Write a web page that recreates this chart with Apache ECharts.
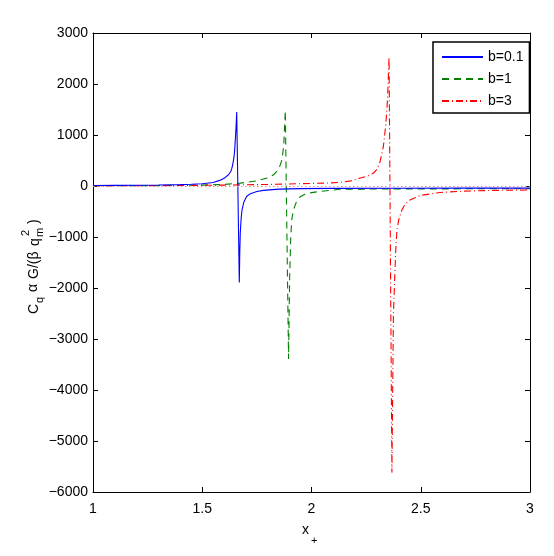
<!DOCTYPE html>
<html>
<head>
<meta charset="utf-8">
<script src="https://cdn.jsdelivr.net/npm/echarts@6/dist/echarts.min.js"></script>
<style>
html,body{margin:0;padding:0;background:#fff;}
#main{width:554px;height:556px;}
</style>
</head>
<body>
<div id="main"></div>
<script>
// ---- data ----
const seriesNames = ['b=0.1', 'b=1', 'b=3'];
const xTicks = [1, 1.5, 2, 2.5, 3];
const yTicks = [-6000, -5000, -4000, -3000, -2000, -1000, 0, 1000, 2000, 3000];

const blueX = [1.0,1.1,1.2,1.3,1.4,1.45,1.5,1.55,1.58,1.6,1.62,1.63,1.635,1.64,1.645,1.648,1.651,1.654,1.656,1.6577,1.6696,1.672,1.674,1.678,1.682,1.69,1.703,1.72,1.75,1.78,1.85,1.95,2.1,2.4,2.7,3.0];
const blueY = [10,12,15,19,27,34,45,70,110,150,220,280,340,430,560,680,880,1100,1280,1450,-1890,-1250,-920,-640,-470,-320,-206,-150,-108,-85,-62,-52,-47,-44,-42,-41];

const greenX = [1.0,1.2,1.4,1.5,1.6,1.674,1.75,1.8,1.826,1.85,1.865,1.873,1.88,1.895,1.9,1.905,1.91,1.918,1.93,1.948,1.97,2.0,2.04,2.13,2.3,2.5,2.75,3.0];
const greenY = [3,6,12,18,30,57,100,160,220,330,514,800,1480,-3390,-1800,-1000,-650,-460,-320,-210,-160,-130,-105,-65,-58,-56,-55,-55];

const redX = [1.0,1.2,1.4,1.6,1.8,1.9,2.0,2.08,2.131,2.18,2.223,2.26,2.284,2.3,2.314,2.329,2.34,2.348,2.355,2.368,2.375,2.385,2.391,2.4,2.414,2.43,2.452,2.497,2.589,2.7,2.85,3.0];
const redY = [2,5,10,18,30,40,50,60,72,100,155,200,253,330,481,775,1200,1700,2529,-5620,-2500,-1300,-859,-650,-467,-350,-271,-186,-127,-100,-85,-78];

const zeroLine = 0;

function pairs(xs, ys){ return xs.map((x,i)=>[x, ys[i]]); }

const FONT = 'Liberation Sans';
const chart = echarts.init(document.getElementById('main'), null, {renderer:'canvas'});

const axisCommon = {
  axisLine:{show:true, onZero:false, lineStyle:{color:'#000', width:1}},
  axisTick:{show:true, inside:true, length:5, lineStyle:{color:'#000', width:1}},
  splitLine:{show:false}
};

const option = {
  backgroundColor:'#fff',
  animation:false,
  grid:{left:93, right:24, top:33, bottom:64, containLabel:false},
  xAxis:[
    Object.assign({type:'value', min:1, max:3, interval:0.5, position:'bottom',
      axisLabel:{show:true, margin:10, color:'#000', fontSize:14, fontFamily:FONT,
        formatter:v=>xTicks.includes(v)?String(v):''}}, axisCommon),
    Object.assign({type:'value', min:1, max:3, interval:0.5, position:'top',
      axisLabel:{show:false}}, axisCommon)
  ],
  yAxis:[
    Object.assign({type:'value', min:-6000, max:3000, interval:1000, position:'left',
      axisLabel:{show:true, margin:5, color:'#000', fontSize:14, fontFamily:FONT,
        formatter:v=>yTicks.includes(v)?String(v).replace('-','\u2212'):''}}, axisCommon),
    Object.assign({type:'value', min:-6000, max:3000, interval:1000, position:'right',
      axisLabel:{show:false}}, axisCommon)
  ],
  legend:{
    data:seriesNames,
    orient:'vertical', left:433, top:42,
    backgroundColor:'#fff', borderColor:'#000', borderWidth:1.5,
    padding:[8,6,5,8], itemGap:8, itemWidth:41, itemHeight:14, itemTextGap:3,
    itemStyle:{opacity:0},
    textStyle:{color:'#000', fontSize:14, fontFamily:FONT}
  },
  series:[
    {name:seriesNames[0], type:'line', data:pairs(blueX, blueY), symbol:'none',
      lineStyle:{color:'#0000ff', width:1.1, type:'solid'}, itemStyle:{color:'#0000ff'}, z:3},
    {name:seriesNames[1], type:'line', data:pairs(greenX, greenY), symbol:'none',
      lineStyle:{color:'#008000', width:1.1, type:[7,5]}, itemStyle:{color:'#008000'}, z:2},
    {name:seriesNames[2], type:'line', data:pairs(redX, redY), symbol:'none',
      lineStyle:{color:'#ff0000', width:1.1, type:[7,3,1,3]}, itemStyle:{color:'#ff0000'}, z:2,
      markLine:{silent:true, symbol:'none', label:{show:false},
        lineStyle:{color:'#ff8c8c', type:[1.5,2.5], width:1.2},
        data:[{yAxis:zeroLine}]}}
  ],
  graphic:[
    {type:'group', x:34, y:314, rotation:Math.PI/2, children:[
      {type:'text', x:0, y:0, style:{text:'C', font:'14px '+FONT, fill:'#000', textVerticalAlign:'middle'}},
      {type:'text', x:11, y:6, style:{text:'q', font:'11px '+FONT, fill:'#000', textVerticalAlign:'middle'}},
      {type:'text', x:22, y:-1, style:{text:'\u03b1', font:'14px '+FONT, fill:'#000', textVerticalAlign:'middle'}},
      {type:'text', x:35, y:0, style:{text:'G/(\u03b2', font:'14px '+FONT, fill:'#000', textVerticalAlign:'middle'}},
      {type:'text', x:68, y:1, style:{text:'q', font:'14px '+FONT, fill:'#000', textVerticalAlign:'middle'}},
      {type:'text', x:77, y:6, style:{text:'m', font:'11px '+FONT, fill:'#000', textVerticalAlign:'middle'}},
      {type:'text', x:78, y:-8, style:{text:'2', font:'11px '+FONT, fill:'#000', textVerticalAlign:'middle'}},
      {type:'text', x:90, y:0, style:{text:')', font:'14px '+FONT, fill:'#000', textVerticalAlign:'middle'}}
    ]},
    {type:'text', left:302, top:523, style:{text:'x', font:'14px '+FONT, fill:'#000'}},
    {type:'text', left:311, top:535, style:{text:'+', font:'11px '+FONT, fill:'#000'}}
  ]
};
chart.setOption(option);
</script>
</body>
</html>
